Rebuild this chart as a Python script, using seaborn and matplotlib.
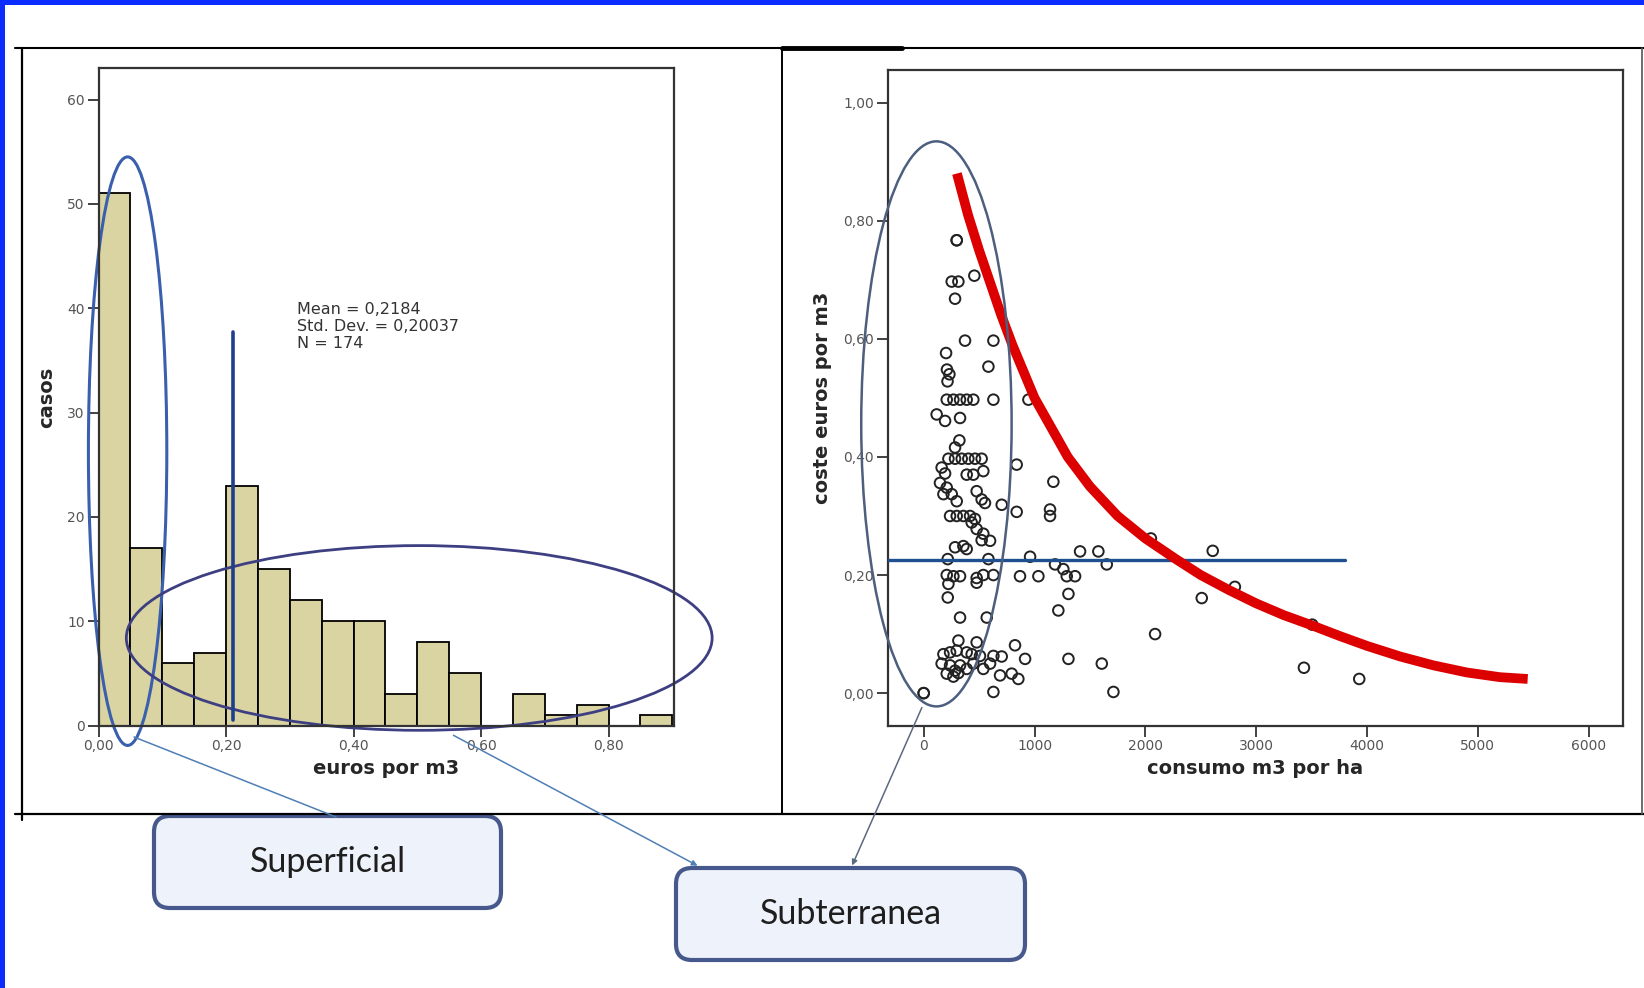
import numpy as np
import seaborn as sns
import matplotlib
matplotlib.use("Agg")
import matplotlib.pyplot as plt
from matplotlib.patches import Ellipse, FancyBboxPatch, Rectangle
from matplotlib.ticker import FuncFormatter, MultipleLocator

# --- histogram: euros por m3 (bins of 0,05) ---
bin_edges = [0.00, 0.05, 0.10, 0.15, 0.20, 0.25, 0.30, 0.35, 0.40, 0.45,
             0.50, 0.55, 0.60, 0.65, 0.70, 0.75, 0.80, 0.85, 0.90]
casos = [51, 17, 6, 7, 23, 15, 12, 10, 10, 3, 8, 5, 0, 3, 1, 2, 0, 1]
linea_media = 0.2115
stats_text = "Mean = 0,2184\nStd. Dev. = 0,20037\nN = 174"

# --- scatter: consumo m3 por ha vs coste euros por m3 ---
consumo = [0, 0, 298, 298, 253, 313, 457, 283, 373, 629, 202, 584, 210, 232, 215,
           208, 268, 328, 388, 448, 629, 945, 117, 193, 328, 322, 283,
           223, 283, 343, 403, 463, 523, 839, 162, 193, 388, 448, 538, 1170,
           147, 208, 178, 253, 298, 478, 523, 553, 704, 839, 1140, 1140,
           238, 298, 358, 418, 463, 433, 478, 538, 523, 599, 283, 358, 388,
           1411, 1576, 960, 217, 584, 1185, 1260, 1652,
           208, 268, 328, 478, 538, 629, 869, 1035, 1291, 1366,
           223, 478, 1306, 217, 1215, 328, 569, 2088, 313, 478, 824,
           178, 238, 298, 388, 433, 508, 629, 704, 915, 1306, 1607,
           162, 238, 283, 328, 388, 448, 538, 599,
           208, 268, 313, 689, 794, 854, 629, 1712,
           2608, 2509, 2808, 3506, 3431, 3930, 2050]
coste = [0.000, 0.000, 0.767, 0.767, 0.697, 0.697, 0.707, 0.668, 0.597, 0.597, 0.576, 0.553, 0.548, 0.540, 0.528,
         0.497, 0.497, 0.497, 0.497, 0.497, 0.497, 0.497, 0.472, 0.461, 0.466, 0.428, 0.416,
         0.397, 0.397, 0.397, 0.397, 0.397, 0.397, 0.387, 0.382, 0.372, 0.370, 0.370, 0.376, 0.358,
         0.356, 0.348, 0.337, 0.337, 0.325, 0.342, 0.328, 0.322, 0.319, 0.307, 0.311, 0.300,
         0.300, 0.300, 0.300, 0.300, 0.295, 0.289, 0.278, 0.270, 0.259, 0.258, 0.247, 0.249, 0.244,
         0.240, 0.240, 0.231, 0.227, 0.227, 0.218, 0.210, 0.218,
         0.200, 0.198, 0.198, 0.195, 0.200, 0.200, 0.198, 0.198, 0.198, 0.198,
         0.185, 0.187, 0.168, 0.162, 0.140, 0.128, 0.128, 0.100, 0.089, 0.086, 0.081,
         0.066, 0.069, 0.072, 0.069, 0.066, 0.063, 0.063, 0.062, 0.058, 0.058, 0.050,
         0.050, 0.047, 0.038, 0.047, 0.041, 0.050, 0.041, 0.050,
         0.033, 0.028, 0.034, 0.030, 0.033, 0.024, 0.002, 0.002,
         0.241, 0.161, 0.180, 0.116, 0.043, 0.024, 0.262]

# fitted curve and mean line
curva_x = [300, 400, 500, 600, 700, 800, 900, 1000, 1150, 1300, 1500, 1750, 2000, 2284,
           2500, 2750, 3000, 3250, 3500, 3750, 4000, 4300, 4600, 4900, 5200, 5450]
curva_y = [0.88, 0.81, 0.75, 0.695, 0.64, 0.59, 0.545, 0.50, 0.45, 0.40, 0.35, 0.30, 0.262, 0.226,
           0.20, 0.175, 0.152, 0.132, 0.115, 0.097, 0.08, 0.062, 0.047, 0.035, 0.027, 0.024]
media_coste = 0.226
media_x = [-322, 3805]

W, H = 1644, 988
sns.set_theme(style="white")
plt.rcParams["font.family"] = ["DejaVu Sans"]

fig = plt.figure(figsize=(W / 100, H / 100), dpi=100)
fig.patch.set_facecolor("white")


def px_axes(x0, y0, x1, y1):
    # axes placed from pixel box (top-left origin)
    return fig.add_axes([x0 / W, 1 - y1 / H, (x1 - x0) / W, (y1 - y0) / H])


coma = lambda fmt: FuncFormatter(lambda v, p: format(v, fmt).replace(".", ","))

# ---------------- left: histogram ----------------
ax1 = px_axes(98.6, 68.2, 674.2, 725.6)
mids = [(a + b) / 2 for a, b in zip(bin_edges[:-1], bin_edges[1:])]
sns.histplot(x=mids, weights=casos, bins=bin_edges, color="#d9d4a2", edgecolor="black",
             linewidth=1.3, alpha=1, ax=ax1)
ax1.set_xlim(0, 0.903)
ax1.set_ylim(0, 63)
ax1.xaxis.set_major_locator(MultipleLocator(0.2))
ax1.yaxis.set_major_locator(MultipleLocator(10))
ax1.xaxis.set_major_formatter(coma(".2f"))
ax1.yaxis.set_major_formatter(coma(".0f"))
ax1.plot([linea_media, linea_media], [0.5, 37.7], color="#1f3f8c", lw=2.6)
ax1.text(0.311, 40.6, stats_text, fontsize=11.5, color="#333333", va="top", linespacing=1.15)
ax1.add_patch(Ellipse((0.0455, 26.3), 0.123, 56.4, fill=False, ec="#3a5fad", lw=2.2, clip_on=False))
ax1.add_patch(Ellipse((0.503, 8.4), 0.919, 17.7, fill=False, ec="#3d3f82", lw=2.0, clip_on=False))
ax1.set_xlabel("euros por m3", fontsize=14, fontweight="bold", labelpad=4)
ax1.set_ylabel("casos", fontsize=14, fontweight="bold", labelpad=8)

# ---------------- right: scatter ----------------
ax2 = px_axes(888, 70.2, 1623, 725.6)
sns.scatterplot(x=consumo, y=coste, marker="o", s=58, facecolors="none",
                edgecolors="#222222", linewidths=1.4, ax=ax2, zorder=3)
sns.lineplot(x=media_x, y=[media_coste, media_coste], color="#1f4f8f", lw=2.4, ax=ax2, zorder=4)
sns.lineplot(x=curva_x, y=curva_y, color="#dd0000", lw=7, ax=ax2, zorder=5,
             estimator=None, sort=True, solid_capstyle="butt", solid_joinstyle="round")
ax2.set_xlim(-322, 6310)
ax2.set_ylim(-0.055, 1.055)
ax2.xaxis.set_major_locator(MultipleLocator(1000))
ax2.yaxis.set_major_locator(MultipleLocator(0.2))
ax2.yaxis.set_major_formatter(coma(".2f"))
ax2.add_patch(Ellipse((115, 0.456), 1357, 0.957, fill=False, ec="#4d5e7e", lw=1.8,
                      clip_on=False, zorder=6))
ax2.set_xlabel("consumo m3 por ha", fontsize=14, fontweight="bold", labelpad=4)
ax2.set_ylabel("coste euros por m3", fontsize=14, fontweight="bold", labelpad=8)

for ax in (ax1, ax2):
    for s in ax.spines.values():
        s.set_color("#333333")
        s.set_linewidth(1.6)
        s.set_visible(True)
    ax.tick_params(axis="both", direction="out", length=8, width=1.3, color="#333333",
                   labelsize=10, labelcolor="#555555", pad=2, left=True, bottom=True)
    ax.set_facecolor("white")

# ---------------- overlay: frames, boxes, connectors ----------------
ov = fig.add_axes([0, 0, 1, 1], zorder=10)
ov.set_xlim(0, W)
ov.set_ylim(H, 0)
ov.axis("off")
ov.patch.set_alpha(0)

ov.plot([15, W], [48, 48], color="black", lw=1.5)
ov.plot([782, 902], [48, 48], color="black", lw=3.5)
ov.plot([15, W], [814, 814], color="black", lw=1.6)
ov.plot([22, 22], [48, 820], color="black", lw=1.6)
ov.plot([782, 782], [48, 814], color="black", lw=1.4)
ov.plot([1642, 1642], [48, 814], color="#555555", lw=1.2)

ov.add_patch(Rectangle((0, 0), W, 5, color="#0a2cff", lw=0))
ov.add_patch(Rectangle((0, 0), 5, H, color="#0a2cff", lw=0))

conn = "#4f7fb5"
ov.plot([134, 336], [737, 817], color=conn, lw=1.1)
ov.annotate("", xy=(700, 867), xytext=(451, 734),
            arrowprops=dict(arrowstyle="-|>", color=conn, lw=1.1, mutation_scale=8))
ov.annotate("", xy=(851, 868), xytext=(923, 705),
            arrowprops=dict(arrowstyle="-|>", color="#5a6a80", lw=1.1, mutation_scale=8))

cajas = [("Superficial", 154, 816, 501, 908), ("Subterranea", 676, 868, 1025, 960)]
for label, x0, y0, x1, y1 in cajas:
    ov.add_patch(FancyBboxPatch((x0, y0), x1 - x0, y1 - y0,
                                boxstyle="round,pad=0,rounding_size=16",
                                fc="#eef2fa", ec="#46588c", lw=3))
    ov.text((x0 + x1) / 2, (y0 + y1) / 2, label, fontsize=24.5, family="Lato",
            color="#1e1e1e", ha="center", va="center")

fig.savefig("out.png", dpi=100)
